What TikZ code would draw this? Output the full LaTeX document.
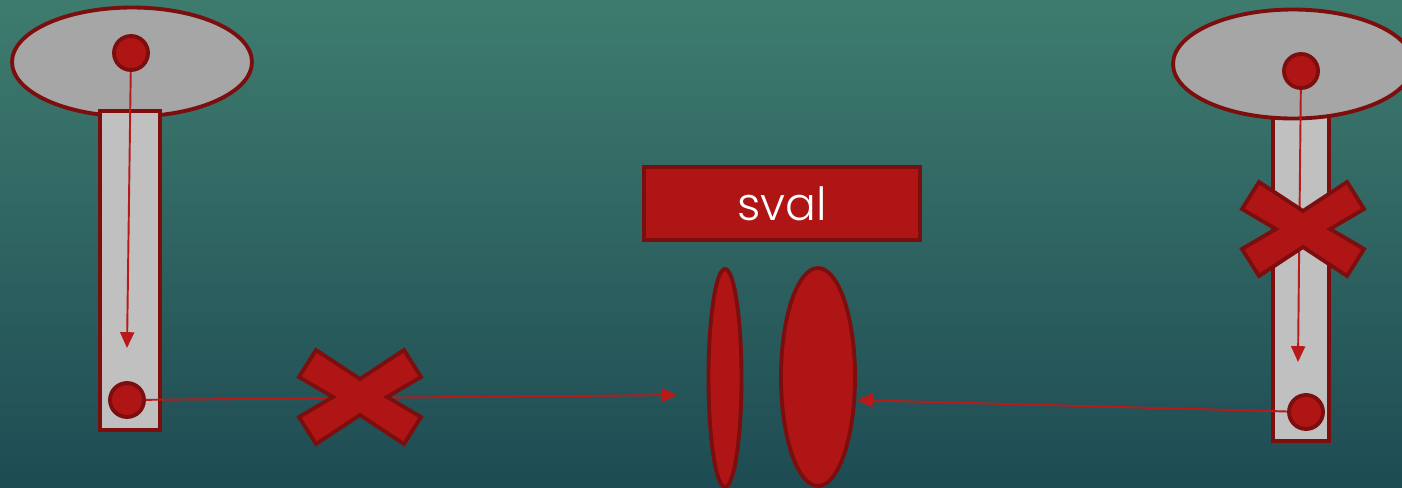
\documentclass[tikz,border=0pt]{standalone}
\usepackage{fontspec}
\setmainfont{Poppins}[UprightFont=* Light]
\usetikzlibrary{shapes.geometric,arrows.meta}

\definecolor{bgtop}{RGB}{62,124,111}
\definecolor{bgbot}{RGB}{30,75,83}
\definecolor{redfill}{RGB}{176,21,21}
\definecolor{redline}{RGB}{125,14,14}
\definecolor{arrred}{RGB}{184,26,26}
\definecolor{greyhead}{RGB}{166,166,166}
\definecolor{greystem}{RGB}{192,192,192}

\begin{document}
\begin{tikzpicture}[x=0.02cm, y=-0.02cm,
    head/.style={ellipse, draw=redline, fill=greyhead, line width=2.2pt, inner sep=0pt, minimum width=4.8cm, minimum height=2.18cm},
    stem/.style={rectangle, draw=redline, fill=greystem, line width=2.2pt, inner sep=0pt},
    dot/.style={circle, draw=redline, fill=redfill, line width=2.2pt, inner sep=0pt, minimum size=0.68cm},
    lens/.style={ellipse, draw=redline, fill=redfill, line width=2.2pt, inner sep=0pt, minimum height=4.36cm},
    cross/.style={draw=redline, fill=redfill, line width=2.2pt, line join=miter},
    arr/.style={draw=arrred, line width=1.1pt, -{Triangle[length=9pt,width=8pt]}}]
    \useasboundingbox (0,0) rectangle (1402,487);
    \shade[top color=bgtop, bottom color=bgbot] (0,0) rectangle (1402,487);
        
    % left side
    \node[head] (headL) at (132,62) {};
    \node[stem, minimum width=1.2cm, minimum height=6.38cm] (stemL) at (130,270.5) {};
    \node[dot] (dotTL) at (131,53) {};
    \node[dot] (dotBL) at (127,400) {};
    
    % right side
    \node[stem, minimum width=1.12cm, minimum height=6.56cm] (stemR) at (1301,277) {};
    \node[head] (headR) at (1293,64) {};
    \node[dot] (dotTR) at (1301,71) {};
    \node[dot] (dotBR) at (1306,412) {};
    
    % middle
    \node[draw=redline, fill=redfill, line width=2.2pt, minimum width=5.52cm, minimum height=1.46cm, text=white, font=\fontsize{26}{30}\selectfont] (sval) at (782,203.5) {sval};
    \node[lens, minimum width=0.66cm] (lensA) at (725,378) {};
    \node[lens, minimum width=1.48cm] (lensB) at (818,377) {};
    
    \coordinate (tipL) at (127,348);
    \coordinate (tipR) at (1298,362);
    \coordinate (tipM) at (677,395);
    \coordinate (tipB) at (857,400);
    \coordinate (crossL) at (360,397);
    \coordinate (crossR) at (1303,229);
    
    \draw[arr] (dotTL) -- (tipL);
    \draw[arr] (dotTR) -- (tipR);
    \draw[arr] (dotBL) -- (tipM);
    \draw[arr] (dotBR) -- (tipB);
    
    \foreach \c in {crossL,crossR} {
        \draw[cross] ([shift={(0,-18)}]\c) -- ([shift={(44,-47)}]\c) -- ([shift={(61,-20)}]\c)
          -- ([shift={(27,0)}]\c) -- ([shift={(61,20)}]\c) -- ([shift={(44,47)}]\c)
          -- ([shift={(0,18)}]\c) -- ([shift={(-44,47)}]\c) -- ([shift={(-61,20)}]\c)
          -- ([shift={(-27,0)}]\c) -- ([shift={(-61,-20)}]\c) -- ([shift={(-44,-47)}]\c) -- cycle;
      }
\end{tikzpicture}
\end{document}
